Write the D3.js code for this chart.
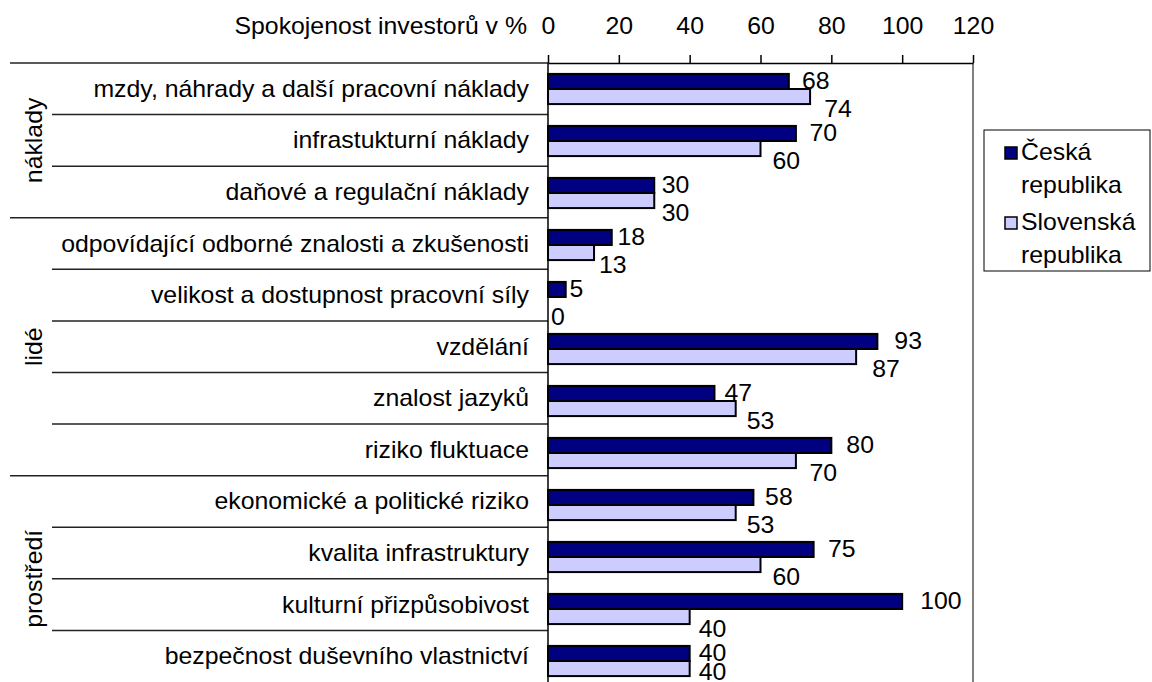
<!DOCTYPE html>
<html><head><meta charset="utf-8">
<script src="https://cdn.jsdelivr.net/npm/d3@7"></script>
<style>
body{margin:0;background:#fff}
text{font-family:"Liberation Sans",Arial,sans-serif;font-size:23px;fill:#000}
</style></head>
<body><svg id="c" width="1152" height="682"></svg>
<script>
const categories = [
  "mzdy, náhrady a další pracovní náklady",
  "infrastukturní náklady",
  "daňové a regulační náklady",
  "odpovídající odborné znalosti a zkušenosti",
  "velikost a dostupnost pracovní síly",
  "vzdělání",
  "znalost jazyků",
  "riziko fluktuace",
  "ekonomické a politické riziko",
  "kvalita infrastruktury",
  "kulturní přizpůsobivost",
  "bezpečnost duševního vlastnictví"
];
const groups = ["náklady", "lidé", "prostředí"];
const groupOf = [0,0,0,1,1,1,1,1,2,2,2,2];
const seriesNames = ["Česká republika", "Slovenská republika"];
const czValues = [68,70,30,18,5,93,47,80,58,75,100,40];
const skValues = [74,60,30,13,0,87,53,70,53,60,40,40];
const xTicks = [0,20,40,60,80,100,120];
const axisTitle = "Spokojenost investorů v %";

const colors = ["#000080", "#CCCCFF"];
const SX = 1.08;
const svg = d3.select("#c");

const x = d3.scaleLinear().domain([0,120]).range([548,973]);
const xLabel = d3.scaleLinear().domain([0,120]).range([551,994]);
const row = d3.scaleBand().domain(categories).range([63,682]);
const y = d3.scaleBand().domain(categories).range([63,687]).paddingInner(0.42).paddingOuter(0.21);
const sub = d3.scaleBand().domain([0,1]).range([0, y.bandwidth()]);

function stext(g, tx, ty, str, anchor) {
  return g.append("g").attr("transform", `translate(${tx},${ty})`)
    .append("text").attr("transform", `scale(${SX},1)`)
    .attr("text-anchor", anchor).text(str);
}

// separator lines
const sep = svg.append("g");
sep.append("line").attr("x1",10).attr("x2",548).attr("y1",63).attr("y2",63)
  .attr("stroke","#222").attr("stroke-width",1.5);
categories.forEach((c,i) => {
  if (i === 0) return;
  const yy = row(c);
  const x0 = groupOf[i] !== groupOf[i-1] ? 10 : 52;
  sep.append("line").attr("x1",x0).attr("x2",548).attr("y1",yy).attr("y2",yy)
    .attr("stroke","#222").attr("stroke-width",1.5);
});

// right border (gray)
svg.append("line").attr("x1",x(120)).attr("x2",x(120)).attr("y1",63).attr("y2",682)
  .attr("stroke","#808080").attr("stroke-width",2);

// bars
const series = [czValues, skValues];
series.forEach((vals, s) => {
  svg.append("g").selectAll("rect").data(categories).join("rect")
    .attr("x", x(0))
    .attr("y", c => y(c) + sub(s))
    .attr("width", (c,i) => x(vals[i]) - x(0))
    .attr("height", sub.bandwidth())
    .attr("fill", colors[s])
    .attr("stroke", "#000").attr("stroke-width", 2);
});

// left axis line
svg.append("line").attr("x1",x(0)).attr("x2",x(0)).attr("y1",63).attr("y2",682)
  .attr("stroke","#000").attr("stroke-width",1.5);

// top axis
const ax = svg.append("g").attr("transform","translate(0,63)")
  .call(d3.axisTop(x).tickValues(xTicks).tickSize(8).tickSizeOuter(0).tickPadding(21));
ax.select(".domain").attr("stroke","#000").attr("stroke-width",1.5);
ax.selectAll(".tick line").attr("stroke","#000").attr("stroke-width",1.5);
ax.selectAll(".tick text").attr("font-size",null).attr("font-family",null)
  .attr("transform",`scale(${SX},1)`).style("font-size","23px");

// axis title
stext(svg, 527, 34, axisTitle, "end");

// category labels
categories.forEach(c => {
  stext(svg, 529, row(c) + row.bandwidth()/2 + 8, c, "end");
});

// group labels
groups.forEach((g, gi) => {
  const idx = categories.filter((c,i) => groupOf[i] === gi);
  const top = row(idx[0]);
  const bot = row(idx[idx.length-1]) + row.bandwidth();
  svg.append("text")
    .attr("transform", `translate(42,${(top+bot)/2}) rotate(-90) scale(${SX},1)`)
    .attr("text-anchor","middle").text(g);
});

// value labels (kept inside the chart area like the original)
series.forEach((vals, s) => {
  categories.forEach((c,i) => {
    let cy = y(c) + sub(s) + sub.bandwidth()/2 + (s === 1 ? 12 : 0);
    cy = Math.min(cy, 672);
    stext(svg, xLabel(vals[i]), cy + 8, String(vals[i]), "start");
  });
});

// legend
const lg = svg.append("g");
lg.append("rect").attr("x",984).attr("y",130).attr("width",166).attr("height",141)
  .attr("fill","#fff").attr("stroke","#000").attr("stroke-width",1);
seriesNames.forEach((name, s) => {
  const oy = 147 + s*70;
  lg.append("rect").attr("x",1005).attr("y",oy).attr("width",12).attr("height",12)
    .attr("fill",colors[s]).attr("stroke","#000").attr("stroke-width",1.5);
  const parts = name.split(" ");
  parts.forEach((p, k) => {
    stext(lg, 1021, oy + 13 + k*33, p, "start");
  });
});
</script></body></html>
